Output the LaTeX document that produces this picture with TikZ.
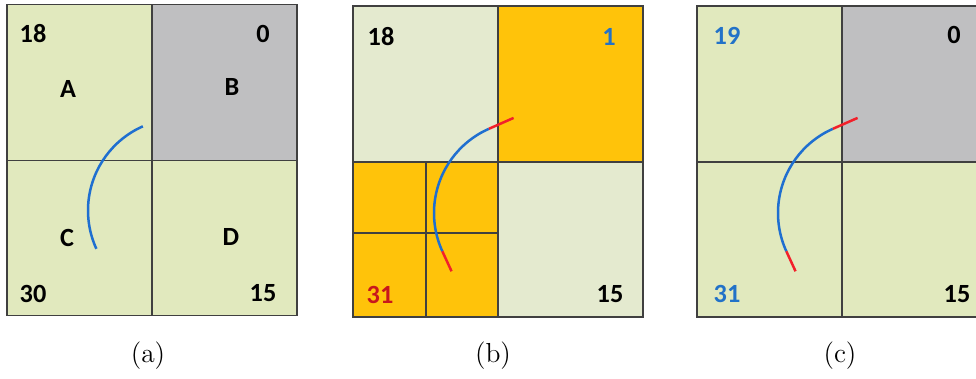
\documentclass[tikz,border=0pt]{standalone}
\usepackage{fontspec}
\newfontfamily\calibfont{Carlito}
\usetikzlibrary{calc}

\definecolor{cellgreen}{HTML}{E1E9BE}
\definecolor{cellpale}{HTML}{E4EACF}
\definecolor{cellgray}{HTML}{BFBFC1}
\definecolor{cellorange}{HTML}{FFC30A}
\definecolor{numblue}{HTML}{2272C8}
\definecolor{numred}{HTML}{C8161C}
\definecolor{pathblue}{HTML}{1F6FD0}
\definecolor{pathred}{HTML}{F2202A}

\begin{document}
\begin{tikzpicture}[x=0.4pt, y=-0.4pt,
    cell/.style={draw=black!75, line width=0.5pt},
    num/.style={font=\calibfont\bfseries\fontsize{10.5}{12}\selectfont, inner sep=0pt},
    subcap/.style={font=\fontsize{11}{13}\selectfont, inner sep=0pt},
    route/.style={draw=pathblue, line width=1pt},
    tail/.style={draw=pathred, line width=1pt}]
    \clip (0,0) rectangle (976,379);
    \fill[white] (0,0) rectangle (976,379);

    % (a)
    \begin{scope}[shift={(7,4.5)}]
        \fill[cellgreen] (0,0) rectangle (290,311);
        \fill[cellgray] (145,0) rectangle (290,156);
        \draw[cell] (0,0) rectangle (290,311) (145,0) -- (145,311) (0,156) -- (290,156);
        \node[num] (a18) at (26,29) {18};
        \node[num] (a0)  at (256,29) {0};
        \node[num] (aA)  at (61,84) {A};
        \node[num] (aB)  at (225,82) {B};
        \node[num] (aC)  at (60,233) {C};
        \node[num] (aD)  at (224,232) {D};
        \node[num] (a30) at (26,289) {30};
        \node[num] (a15) at (256,289) {15};
        \coordinate (actr) at (173,206);
        \draw[route] (actr) ++(246.2:92) arc[start angle=246.2, end angle=155.4, radius=92];
    \end{scope}
    \node[subcap] (capa) at (148,356) {(a)};

    % (b)
    \begin{scope}[shift={(353,6)}]
        \fill[cellpale] (0,0) rectangle (290,311);
        \fill[cellorange] (145,0) rectangle (290,156);
        \fill[cellorange] (0,156) rectangle (145,311);
        \draw[cell] (0,0) rectangle (290,311) (145,0) -- (145,311) (0,156) -- (290,156);
        \draw[cell] (73,156) -- (73,311) (0,227) -- (145,227);
        \node[num] (b18) at (28,31) {18};
        \node[num, text=numblue] (b1) at (256,31) {1};
        \node[num, text=numred] (b31) at (27,289) {31};
        \node[num] (b15) at (257,288) {15};
        \coordinate (bctr) at (173,207);
        \draw[route] (bctr) ++(246.2:92) coordinate (bs) arc[start angle=246.2, end angle=155.4, radius=92] coordinate (be);
        \draw[tail] (bs) -- ++(24.7,-10.9);
        \draw[tail] (be) -- ++(9.2,20);
    \end{scope}
    \node[subcap] (capb) at (493,356) {(b)};

    % (c)
    \begin{scope}[shift={(697,6)}]
        \fill[cellgreen] (0,0) rectangle (290,311);
        \fill[cellgray] (145,0) rectangle (290,156);
        \draw[cell] (0,0) rectangle (290,311) (145,0) -- (145,311) (0,156) -- (290,156);
        \node[num, text=numblue] (c19) at (30,30) {19};
        \node[num] (c0) at (257,29) {0};
        \node[num, text=numblue] (c31) at (30,288) {31};
        \node[num] (c15) at (260,288) {15};
        \coordinate (cctr) at (173,207);
        \draw[route] (cctr) ++(246.2:92) coordinate (cs) arc[start angle=246.2, end angle=155.4, radius=92] coordinate (ce);
        \draw[tail] (cs) -- ++(24.7,-10.9);
        \draw[tail] (ce) -- ++(9.2,20);
    \end{scope}
    \node[subcap] (capc) at (840,356) {(c)};
\end{tikzpicture}
\end{document}
